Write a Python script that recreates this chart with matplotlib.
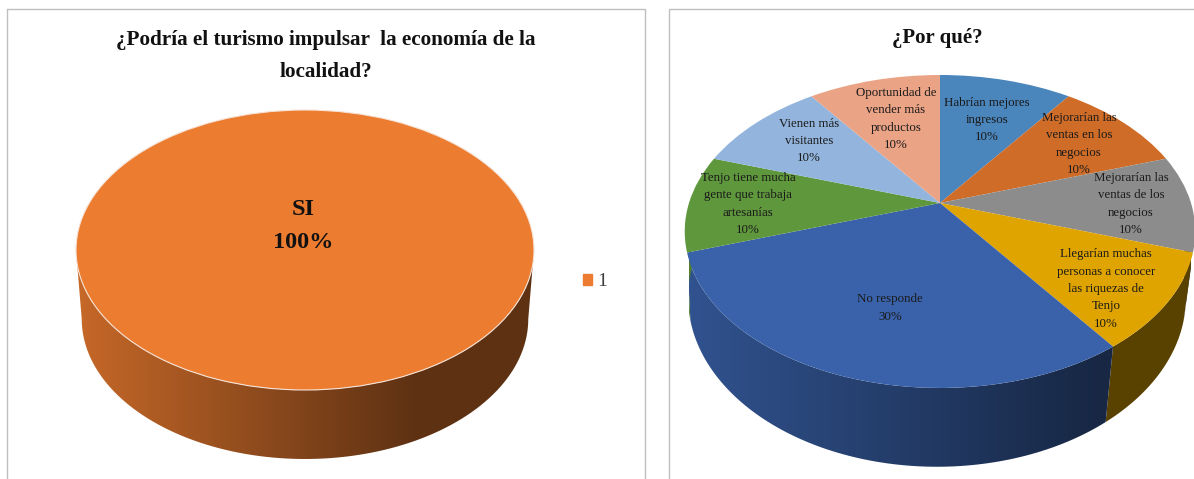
import numpy as np
import matplotlib
matplotlib.use('Agg')
import matplotlib.pyplot as plt
from matplotlib.patches import Patch, Polygon
from matplotlib.transforms import Transform

plt.rcParams['font.family'] = ['Liberation Serif', 'DejaVu Serif']

# left chart
left_values = [100]
left_labels = ['SI']
left_legend = ['1']
left_colors = ['#EC7C30']

# right chart
right_values = [10, 10, 10, 10, 30, 10, 10, 10]
right_labels = ['Habrían mejores\ningresos',
                'Mejorarían las\nventas en los\nnegocios',
                'Mejorarían las\nventas de los\nnegocios',
                'Llegarían muchas\npersonas a conocer\nlas riquezas de\nTenjo',
                'No responde',
                'Tenjo tiene mucha\ngente que trabaja\nartesanías',
                'Vienen más\nvisitantes',
                'Oportunidad de\nvender más\nproductos']
right_colors = ['#4A85BC', '#CF6C28', '#8C8C8C', '#E0A400',
                '#3A62AA', '#5F973D', '#93B5DD', '#EBA386']
right_label_pos = [(987, 120), (1079, 144), (1131, 204), (1106, 289),
                   (890, 308), (748, 204), (809, 141), (896, 119)]


class Persp(Transform):
    input_dims = 2
    output_dims = 2
    is_separable = False
    has_inverse = False

    def __init__(self, cx, cy, rx, ry, p):
        super().__init__()
        self.cx, self.cy, self.rx, self.ry, self.p = cx, cy, rx, ry, p

    def transform_non_affine(self, values):
        values = np.asarray(values)
        s = 1 / (1 + self.p * values[:, 1])
        return np.column_stack((self.cx + self.rx * values[:, 0] * s,
                                self.cy - self.ry * values[:, 1] * s))


def draw_pie(ax, values, colors, persp, fx, fy, dx, drop, fade_end, edge=None):
    wedges, _ = ax.pie(values, colors=colors, startangle=90, counterclock=False,
                       center=(0, 0), radius=1, frame=True)
    for w in wedges:
        w.set_transform(persp + ax.transData)
        w.set_zorder(3)
        if edge:
            w.set_edgecolor(edge)
            w.set_linewidth(0.8)
        else:
            w.set_linewidth(0)

    # side of the pie, only the front half is visible
    left = persp.cx - persp.rx
    right = persp.cx + persp.rx
    edges = np.cumsum([0] + list(values)) / sum(values) * 360
    for i in range(len(values)):
        a1 = max(edges[i], 90)
        a2 = min(edges[i + 1], 270)
        if a2 <= a1:
            continue
        a = np.radians(np.linspace(a1, a2, 100))
        top = persp.transform_non_affine(np.column_stack((np.sin(a), np.cos(a))))
        low = np.column_stack((persp.cx + fx * (top[:, 0] - persp.cx) + dx,
                               persp.cy + fy * (top[:, 1] - persp.cy) + drop))
        poly = Polygon(np.vstack((top, low[::-1])), closed=True,
                       transform=ax.transData, facecolor='none', edgecolor='none')
        ax.add_patch(poly)
        xs = np.linspace(left, right, 300)
        shade = np.interp((xs - left) / (right - left), [0, fade_end], [0.84, 0.40])
        rgb = np.array(matplotlib.colors.to_rgb(colors[i]))
        img = (shade[:, None] * rgb)[None, :, :]
        ym = np.vstack((top, low))[:, 1]
        im = ax.imshow(img, extent=(left, right, ym.max(), ym.min()),
                       aspect='auto', zorder=2, interpolation='bilinear')
        im.set_clip_path(poly)
    return wedges


fig = plt.figure(figsize=(11.94, 4.79), dpi=100)
ax = fig.add_axes([0, 0, 1, 1])

persp_l = Persp(305, 250, 229, 140, 0)
persp_r = Persp(940, 203, 251, 151.3, 0.182)
draw_pie(ax, left_values, left_colors, persp_l, 0.975, 1.0, 0, 69, 0.74, edge='#F6E3D6')
draw_pie(ax, right_values, right_colors, persp_r, 0.975, 1.08, -3, 64, 0.82)

ax.set_aspect('auto')
ax.set_xlim(0, 1194)
ax.set_ylim(479, 0)
ax.set_xticks([])
ax.set_yticks([])
ax.set_frame_on(False)

# chart borders
ax.plot([7, 7, 645, 645], [479, 9, 9, 479], color='#BFBFBF', lw=1, zorder=1)
ax.plot([669, 669, 1194], [479, 9, 9], color='#BFBFBF', lw=1, zorder=1)

# titles
ax.text(326, 56, '¿Podría el turismo impulsar  la economía de la\nlocalidad?',
        ha='center', va='center', fontsize=15.2, fontweight='bold',
        color='#111111', linespacing=1.84, zorder=5)
ax.text(937, 38, '¿Por qué?', ha='center', va='center', fontsize=15,
        fontweight='bold', color='#111111', zorder=5)

# labels
ax.text(303, 226, left_labels[0] + '\n' + str(left_values[0]) + '%', ha='center',
        va='center', fontsize=17.5, fontweight='bold', color='#111111',
        linespacing=1.8, zorder=5)
total = sum(right_values)
for name, val, pos in zip(right_labels, right_values, right_label_pos):
    ax.text(pos[0], pos[1], name + '\n' + str(round(val * 100 / total)) + '%',
            ha='center', va='center', fontsize=9.3, color='#1A1A1A',
            linespacing=1.6, zorder=5)

# legend
ax.legend(handles=[Patch(color=left_colors[0])], labels=left_legend, frameon=False,
          loc='center left', bbox_to_anchor=(583 / 1194, 1 - 282 / 479),
          borderpad=0, borderaxespad=0,
          handlelength=0.45, handleheight=0.45, handletextpad=0.3, fontsize=14,
          labelcolor='#404040')

plt.savefig('out.png', dpi=100)
